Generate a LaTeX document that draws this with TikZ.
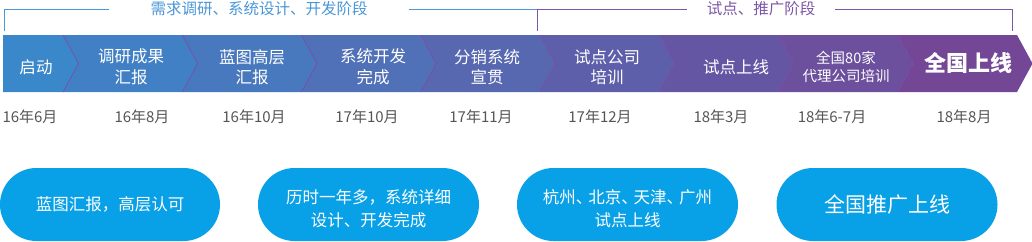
\documentclass[tikz,border=0pt]{standalone}
\usepackage{fontspec}
\setmainfont{Noto Sans CJK SC}
\usetikzlibrary{shapes.misc}
\definecolor{BandL}{RGB}{58,136,202}
\definecolor{BandR}{RGB}{116,70,150}
\definecolor{EdgeClr}{RGB}{122,76,162}
\definecolor{PillClr}{RGB}{8,160,230}
\definecolor{HdrBlue}{RGB}{74,150,214}
\definecolor{HdrPurple}{RGB}{124,86,168}
\definecolor{DateClr}{RGB}{85,85,85}
\newcommand\dun{\makebox[0.75em][l]{、}}

\tikzset{
  segtext/.style={text=white,align=center,inner sep=0pt,font=\fontsize{16.5}{20.5}\selectfont},
  datetext/.style={text=DateClr,inner sep=0pt,font=\fontsize{15}{18}\selectfont},
  pill/.style={rounded rectangle,fill=PillClr,text=white,align=center,minimum width=221pt,
    minimum height=73pt,inner xsep=0pt,font=\fontsize{16.5}{24}\selectfont},
  pilltext/.style={text=white,align=center,inner sep=0pt,font=\fontsize{16.5}{23}\selectfont},
  hdr/.style={inner ysep=0pt,font=\fontsize{15.5}{18}\selectfont},
  sepline/.style={EdgeClr,line width=0.7pt},
}

\begin{document}
\begin{tikzpicture}[x=1pt,y=-1pt]

\useasboundingbox (0,0) rectangle (1032,241);

% band of chevrons, blue to purple
\foreach \i in {1,...,9}{
  \pgfmathtruncatemacro\pct{(\i-1)*100/8}
  \colorlet{segclr}{BandR!\pct!BandL}
  \pgfmathsetmacro\lx{\i==1 ? 3 : 63+119.25*(\i-2)}
  \pgfmathsetmacro\ld{\i==1 ? 0 : 15.5}
  \pgfmathsetmacro\rx{63+119.25*(\i-1)}
  \fill[segclr] (\lx,35) -- (\rx,35) -- (\rx+15.5,63.5) -- (\rx,92) -- (\lx,92) -- (\lx+\ld,63.5) -- cycle;
}
\foreach \k in {1,...,8}{
  \pgfmathsetmacro\bx{63+119.25*(\k-1)}
  \draw[sepline] (\bx,35) -- (\bx+15.5,63.5) -- (\bx,92);
}

\node[segtext] (s1) at (36,67) {启动};
\node[segtext] (s2) at (131,67) {调研成果\\汇报};
\node[segtext] (s3) at (252,67) {蓝图高层\\汇报};
\node[segtext] (s4) at (373,67) {系统开发\\完成};
\node[segtext] (s5) at (487,67) {分销系统\\宣贯};
\node[segtext] (s6) at (607,67) {试点公司\\培训};
\node[segtext] (s7) at (736,67) {试点上线};
\node[segtext,font=\fontsize{14.5}{18.5}\selectfont] (s8) at (846,67) {全国80家\\代理公司培训};
\node[segtext,font=\fontsize{22}{26}\selectfont\bfseries] (s9) at (968,63) {全国上线};

% phase brackets
\node[hdr,text=HdrBlue,inner xsep=41pt] (hA) at (259,9) {需求调研、系统设计、开发阶段};
\node[hdr,text=HdrPurple,inner xsep=20pt] (hB) at (761,9) {试点、推广阶段};
\coordinate (a1) at (4,31);
\coordinate (a2) at (537,9);
\coordinate (b1) at (537,31);
\coordinate (b2) at (1012,31);
\draw[HdrBlue,line width=0.8pt] (a1) |- (hA.west);
\draw[HdrBlue,line width=0.8pt] (hA.east) -- (a2);
\draw[HdrPurple,line width=0.8pt] (b1) |- (hB.west);
\draw[HdrPurple,line width=0.8pt] (hB.east) -| (b2);

% dates
\foreach \x/\t [count=\n] in {30/16年6月,142/16年8月,254/16年10月,367/17年10月,481/17年11月,
    600/17年12月,721/18年3月,832/18年6-7月,964/18年8月}
  \node[datetext] (d\n) at (\x,117) {\t};

% summary pills
\node[pill,minimum width=220pt] (p1) at (110,204.5) {蓝图汇报，高层认可};
\node[pill] (p2) at (368.5,204.5) {};
\node[pilltext] (t2) at ([yshift=-4pt]p2.center) {历时一年多，系统详细\\设计、开发完成};
\node[pill] (p3) at (627.5,204.5) {};
\node[pilltext] (t3) at ([yshift=-4pt]p3.center) {杭州\dun 北京\dun 天津\dun 广州\\试点上线};
\node[pill,font=\fontsize{21}{24}\selectfont] (p4) at (887,204.5) {全国推广上线};

\end{tikzpicture}
\end{document}
